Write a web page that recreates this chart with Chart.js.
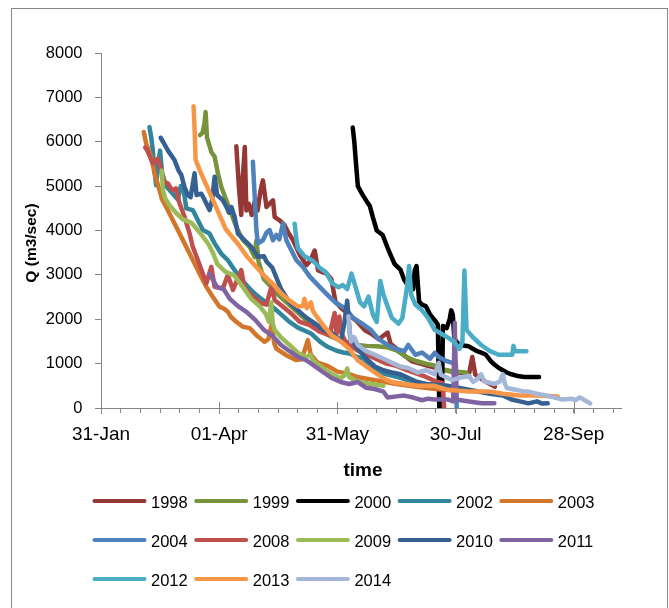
<!DOCTYPE html>
<html>
<head>
<meta charset="utf-8">
<title>Q (m3/sec) vs time</title>
<script src="https://cdn.jsdelivr.net/npm/chart.js@4.4.1/dist/chart.umd.min.js"></script>
<style>
  body { margin: 0; background: #fff; }
  canvas { display: block; }
</style>
</head>
<body>
<canvas id="flowChart" width="669" height="608"></canvas>
<script>
// x values are days after 31-Jan, y values are Q in m3/sec
const years = ["1998", "1999", "2000", "2002", "2003", "2004", "2008", "2009", "2010", "2011", "2012", "2013", "2014"];
const lineColors = ["#953735", "#77933C", "#000000", "#31859C", "#D2762B", "#4F81BD", "#C0504D",
                    "#9BBB59", "#376092", "#8064A2", "#4BACC6", "#F79646", "#A4B7D8"];

const tickDays = [0, 60, 120, 180, 240];
const tickLabels = ["31-Jan", "01-Apr", "31-May", "30-Jul", "28-Sep"];

const q1998 = [[68.7,5900],[70,5000],[71.2,4350],[72,5200],[73,5880],[73.8,4450],[75,4600],[76.5,4350],[78,4650],
  [79.5,4450],[81,4900],[82.2,5130],[84,4530],[85.5,4600],[87.3,4680],[88.2,4300],[90.7,4230],[93.2,4120],[94.9,3970],
  [97.5,3780],[100.9,3450],[104.3,3220],[106,3300],[108.5,3550],[110.2,3100],[114.4,3030],[117,2900],[119,2400],
  [122,2250],[126,2100],[130,1950],[134,1750],[137,1680],[141,1550],[145.5,1700],[147,1450],[151,1300],[155,1150],
  [158,1050],[162,1000],[166,950],[170,900],[175,850],[180,800],[185,780],[187,800],[188.5,1150],[190,750],[195,600],[200,480]];

const q1999 = [[50.2,6150],[51.5,6200],[52.5,6400],[53.1,6670],[53.8,6100],[56,5770],[57.7,5660],[59.4,5280],[61.1,4980],
  [63.6,4680],[66.2,4380],[68.7,4080],[72.1,3780],[75.5,3630],[78,3400],[78.9,3780],[80,3300],[82.7,2900],[87,2700],
  [90,2550],[95,2350],[100,2150],[105,1950],[110,1800],[115,1650],[120,1550],[126,1480],[130,1420],[135,1400],
  [140,1390],[145,1370],[150,1300],[155,1150],[160,1060],[165,1000],[170,950],[175,850],[180,820],[185,800],[187,720]];

const q2000 = [[127.8,6320],[128.6,6000],[129.3,5600],[130.4,5000],[132.6,4820],[135,4650],[136.5,4550],[138,4300],
  [140,4000],[141.5,3950],[143,3900],[145.6,3600],[147.5,3400],[149,3250],[152,3120],[153.8,2900],[156.4,2720],
  [158.5,2680],[159.3,3100],[160.2,3200],[161.5,2400],[163,2330],[165,2290],[167,2110],[169.4,1980],[171,1880],
  [171.8,-100],[173,-100],[173.6,1850],[175.5,1800],[177,2000],[177.8,2200],[178.6,2100],[179.4,1550],[182,1420],
  [186.7,1390],[189,1330],[191,1280],[193,1250],[195.4,1200],[198,1050],[199.7,980],[202,900],[204,850],[206,800],
  [208.4,760],[211.6,720],[215,700],[222.4,700]];

const q2002 = [[24.6,6330],[25.5,6100],[26.3,5810],[27,5400],[28,5020],[29,5500],[30,5800],[31,5300],[33,5000],
  [35,4900],[37,4800],[39,4700],[40.5,5000],[41.6,5020],[43.3,4500],[46.6,4460],[49.2,4230],[51.7,4010],[55.1,3930],
  [57.7,3710],[61,3480],[64.4,3330],[67.8,3110],[70,2960],[74.6,2730],[78,2580],[82.2,2430],[85,2350],[89.2,2200],
  [95.7,1940],[100,1810],[106.6,1680],[111,1500],[115,1380],[119.6,1290],[123,1250],[126.3,1230],[130,1150],
  [133,1120],[136,1000],[139.8,820],[145,760],[150,705],[158.4,590],[165,540],[173.7,500],[180,470]];

const q2003 = [[21.7,6220],[23,5950],[25.5,5660],[27.2,5285],[29.7,4910],[31,4700],[33.1,4530],[36.5,4230],[39.9,3930],
  [42.4,3710],[45.8,3410],[50,3030],[53.5,2730],[56.8,2500],[60.2,2280],[62,2250],[64.4,2170],[66,2050],[68.7,1940],
  [72,1830],[75.5,1800],[78.9,1640],[83,1490],[85,1550],[86.6,1870],[88,1450],[89,1340],[94,1190],[99,1080],
  [102,1100],[105,1530],[106.5,1200],[110,1020],[115,950],[120,820],[125,780],[130,700],[140,620],[150,540],
  [160,480],[170,430],[178,400]];

const q2004 = [[77.1,5550],[78,4800],[78.9,4000],[79.7,3710],[82.2,3780],[84,3950],[85.6,4010],[87.3,3780],[89,3900],
  [90.5,3800],[92.4,4160],[94.1,3780],[95.8,3630],[99.2,3330],[102.5,3180],[106,2960],[111,2730],[116.1,2500],
  [119.5,2360],[124,2250],[128,2030],[132.6,1900],[137,1760],[141,1550],[145.5,1420],[150,1330],[154,1280],
  [156,1420],[159.6,1200],[163,1250],[167,1110],[169.4,1240],[171.5,1150],[174.8,1070],[178,1020],[180.2,980],
  [180.6,-100],[181.2,-100]];

const q2008 = [[22.5,5870],[23.5,5800],[25,5650],[26.3,5510],[28.9,5620],[30.6,5360],[32,5100],[34,5060],[35.5,4950],
  [36.5,4910],[38,4950],[39.9,4610],[42.4,4310],[45,3930],[46.6,3630],[49.2,3330],[51.7,3030],[53.5,2810],[56,3180],
  [57.7,2730],[61.9,2700],[64.4,3000],[67,2660],[71.2,3110],[72.9,2700],[77.1,2510],[81.4,2360],[84,2330],
  [86.5,2730],[88.2,2430],[92.4,2280],[96.6,2130],[100.9,1940],[106,1870],[111,1720],[116,1640],[118.6,2140],
  [119.5,1650],[121,2060],[122,1700],[124,1500],[127,1400],[130,1300],[135,1200],[140,1100],[145,1000],[150,950],
  [155,860],[160,780],[165,700],[170,600],[173.5,560],[174.3,-100],[175.3,-100]];

const q2009 = [[30.8,5350],[31.5,4900],[32.5,4730],[35,4560],[38,4400],[41.6,4250],[46,4170],[50.2,3950],[54.6,3690],
  [56.7,3510],[59,3250],[63.2,3070],[67.6,2990],[72,2730],[76.2,2460],[80.6,2290],[83.8,2110],[85.3,1940],
  [86.4,2380],[87.2,1900],[88.2,1760],[91.4,1590],[95.7,1420],[100,1240],[104.4,1150],[106,1200],[108,1050],
  [113,890],[117.4,760],[121.7,670],[124,750],[125,890],[126,700],[130.4,590],[137,540],[143.4,500]];

const q2010 = [[30.3,6090],[31.5,6000],[34,5800],[37.3,5590],[39.4,5350],[40.8,5250],[42.4,4980],[44.1,4800],
  [45.5,4750],[47.5,5290],[48.5,4800],[50.9,4830],[52.5,4700],[55.1,4460],[56.5,4700],[57.7,5210],[59,4800],
  [61.9,4680],[63.5,4550],[65,4400],[66.2,4530],[67.8,4310],[69.5,3930],[72.9,3780],[76.3,3630],[79.7,3410],
  [82.7,3420],[84,3300],[87,3160],[91.4,2680],[95.7,2380],[100,2200],[104.4,2030],[108.7,1900],[113,1760],
  [117.4,1680],[121.7,1500],[123.5,1900],[125,2420],[126.5,1590],[130.4,1330],[134.7,1110],[139,935],[143.4,850],
  [147.7,800],[152,760],[156.4,670],[160.7,585],[165,540],[176,500],[186.7,410],[197.5,320],[204,280],[208.4,190],
  [212.7,150],[217,105],[221.3,150],[224,100],[226.8,105]];

const q2011 = [[55.2,3030],[56.7,2900],[59,2720],[62.2,2680],[65.4,2460],[69.7,2290],[74,2160],[78.4,1980],[82.7,1760],
  [87,1630],[91.4,1420],[95.7,1280],[100,1150],[104.4,1070],[108.7,935],[113,800],[117.4,670],[121.7,585],[126,540],
  [130.4,585],[134.7,454],[139,428],[143.4,367],[145.5,236],[150,262],[154,280],[158.5,236],[163,175],[166,210],
  [169.4,192],[176,192],[178.8,150],[179.6,1920],[180.4,192],[186.7,148],[193.2,105],[199.7,105]];

const q2012 = [[98.3,4150],[99.2,3800],[100,3600],[103.3,3420],[106.6,3340],[108,3300],[111,3160],[114,3070],
  [117.4,2810],[120.6,2720],[122.8,2770],[125,2680],[127.2,3030],[129.3,2720],[131.5,2380],[133.6,2290],[135.8,2510],
  [138,2110],[140,1940],[141.8,2860],[143.4,2550],[145.5,2290],[147.7,2030],[151,1900],[153,2030],[155.3,2700],
  [156.4,3200],[157.5,2550],[159.6,2330],[163,2200],[166,2030],[169.4,1760],[172.6,1680],[176,1590],[179,1500],
  [182,1330],[183.5,1500],[184.5,3100],[185.6,1760],[188.9,1590],[193,1420],[197.5,1280],[201.9,1200],[206,1200],
  [208.8,1200],[209.4,1400],[210.2,1280],[216,1280]];

const q2013 = [[47,6800],[47.6,6200],[48,5600],[50.2,5350],[54.6,4910],[59,4470],[63.2,4040],[66.5,3860],[69.7,3690],
  [74,3420],[78.4,3200],[82.7,2990],[87,2810],[91.4,2590],[95.7,2420],[100,2290],[102.5,2300],[103.3,2460],
  [104.5,2250],[106.6,2380],[107.5,2200],[108.7,2110],[113,1850],[117.4,1630],[121.7,1500],[126,1330],[130.4,1070],
  [134.7,935],[139,800],[143.4,670],[147.7,585],[154,540],[160.7,500],[169.4,500],[176,410],[186.7,370],[197.5,370],
  [204,320],[212.7,280],[221.3,280],[232,260]];

const q2014 = [[125.6,2070],[126.3,1700],[127,1500],[128.5,1600],[130.4,1420],[134.7,1280],[139,1200],[143.4,1110],
  [147.7,1020],[152,935],[156,900],[160.7,800],[165,850],[169.4,760],[170.6,900],[171.5,1020],[172.5,750],[175,700],
  [178,630],[182,680],[186.7,720],[189,590],[191,650],[193,760],[194.5,600],[199.7,540],[202.5,600],[204,760],
  [205,560],[206,450],[210.5,410],[214,380],[217,370],[221.3,320],[226,280],[230,240],[234.3,190],[238.7,210],
  [241,180],[243,240],[245,190],[248.4,105]];

const seriesData = [q1998, q1999, q2000, q2002, q2003, q2004, q2008, q2009, q2010, q2011, q2012, q2013, q2014];

const axisGray = "#868686";
const fontName = "'Liberation Sans', Arial, sans-serif";

// Build one line dataset per year
function buildDatasets() {
    return years.map((year, i) => ({
        label: year,
        data: seriesData[i].map(p => ({ x: p[0], y: p[1] })),
        borderColor: lineColors[i],
        backgroundColor: lineColors[i],
        borderWidth: 4.5,
        pointRadius: 0,
        tension: 0,
        fill: false,
        borderJoinStyle: "round",
        borderCapStyle: "round",
        order: years.length - i   // later years on top, like the spreadsheet
    }));
}

// Frame, crossing major ticks, axis titles and legend
const chartDecor = {
    id: "chartDecor",
    beforeDraw(chart) {
        const ctx = chart.ctx;
        ctx.save();
        ctx.fillStyle = "#fff";
        ctx.fillRect(0, 0, chart.width, chart.height);
        ctx.strokeStyle = axisGray;
        ctx.lineWidth = 1;
        ctx.strokeRect(11.5, 8.5, 656, 640);
        ctx.restore();
    },
    beforeDatasetsDraw(chart) {
        const ctx = chart.ctx;
        const xs = chart.scales.x;
        ctx.save();
        ctx.strokeStyle = axisGray;
        ctx.lineWidth = 1;
        tickDays.forEach(d => {
            const px = Math.round(xs.getPixelForValue(d)) + 0.5;
            ctx.beginPath();
            ctx.moveTo(px, xs.top - 6);
            ctx.lineTo(px, xs.top + 6);
            ctx.stroke();
        });
        ctx.restore();
    },
    afterDraw(chart) {
        const ctx = chart.ctx;
        ctx.save();
        ctx.fillStyle = "#000";

        // y title
        ctx.save();
        ctx.translate(32, 243);
        ctx.rotate(-Math.PI / 2);
        ctx.font = "bold 15.5px " + fontName;
        ctx.textAlign = "center";
        ctx.textBaseline = "middle";
        ctx.fillText("Q (m3/sec)", 0, 0);
        ctx.restore();

        // x title
        ctx.font = "bold 19px " + fontName;
        ctx.textAlign = "center";
        ctx.textBaseline = "alphabetic";
        ctx.fillText("time", 363, 476);

        // legend, five per row
        ctx.font = "16.5px " + fontName;
        ctx.textAlign = "left";
        ctx.lineCap = "round";
        ctx.lineWidth = 4;
        years.forEach((year, i) => {
            const lx = 94.5 + (i % 5) * 101.7;
            const ly = 501 + Math.floor(i / 5) * 39;
            ctx.strokeStyle = lineColors[i];
            ctx.beginPath();
            ctx.moveTo(lx, ly);
            ctx.lineTo(lx + 50, ly);
            ctx.stroke();
            ctx.fillText(year, lx + 56.5, ly + 7);
        });
        ctx.restore();
    }
};

function createChart() {
    let ctx = document.getElementById("flowChart").getContext("2d");

    return new Chart(ctx, {
        type: "line",
        data: { datasets: buildDatasets() },
        plugins: [chartDecor],
        options: {
            responsive: false,
            animation: false,
            layout: { padding: { top: 53, right: 48, bottom: 0, left: 0 } },
            plugins: {
                legend: { display: false },
                tooltip: { enabled: false }
            },
            scales: {
                x: {
                    type: "linear",
                    min: 0,
                    max: 264,
                    afterFit(scale) { scale.height = 200; },
                    ticks: {
                        stepSize: 10,
                        includeBounds: false,
                        autoSkip: false,
                        maxRotation: 0,
                        padding: 10,
                        color: "#000",
                        font: { family: fontName, size: 19 },
                        callback: (value) => {
                            const k = tickDays.indexOf(value);
                            return k >= 0 ? tickLabels[k] : "";
                        }
                    },
                    grid: { drawOnChartArea: false, tickLength: 5, color: axisGray },
                    border: { color: axisGray }
                },
                y: {
                    min: 0,
                    max: 8000,
                    afterFit(scale) { scale.width = 101; },
                    ticks: {
                        stepSize: 1000,
                        padding: 12.5,
                        color: "#000",
                        font: { family: fontName, size: 16.5 },
                        callback: (value) => String(value)
                    },
                    grid: { drawOnChartArea: false, tickLength: 6, color: axisGray },
                    border: { color: axisGray }
                }
            }
        }
    });
}

createChart();
</script>
</body>
</html>
